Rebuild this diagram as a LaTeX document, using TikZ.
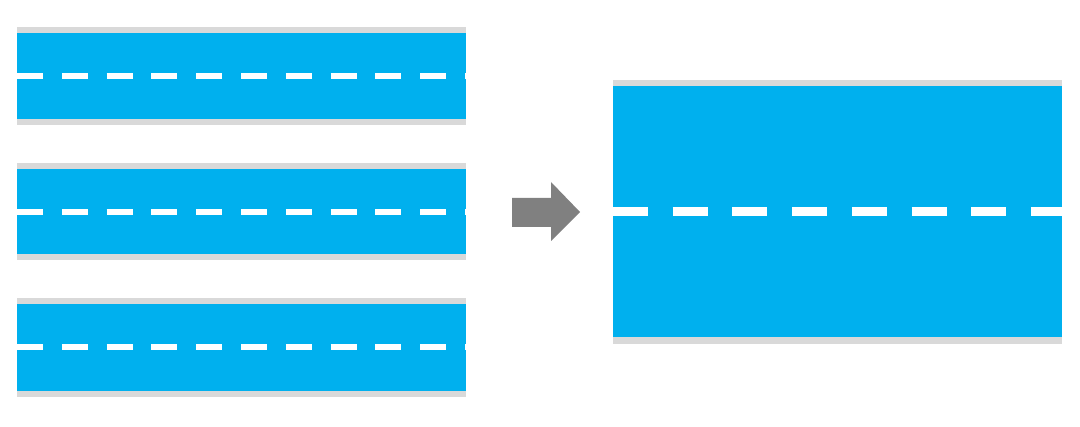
\documentclass[tikz,border=0pt]{standalone}
\definecolor{laneblue}{RGB}{0,176,238}
\definecolor{kerbgray}{RGB}{217,217,217}
\definecolor{arrowgray}{RGB}{128,128,128}
\tikzset{
  lane/.style={fill=laneblue},
  kerb/.style={fill=kerbgray},
  smallmark/.style={draw=white, line width=6, dash pattern=on 26 off 18.8},
  bigmark/.style={draw=white, line width=9, dash pattern=on 35 off 24.7}
}
\begin{document}
\begin{tikzpicture}[x=1pt, y=-1pt]
\useasboundingbox (0,0) rectangle (1080,427);
% road 1
\fill[kerb] (17,27) rectangle (466,125);
\fill[lane] (17,33) rectangle (466,119);
\draw[smallmark] (17,76) -- (466,76);
% road 2
\fill[kerb] (17,163) rectangle (466,260);
\fill[lane] (17,169) rectangle (466,254);
\draw[smallmark] (17,212) -- (466,212);
% road 3
\fill[kerb] (17,298) rectangle (466,397);
\fill[lane] (17,304) rectangle (466,391);
\draw[smallmark] (17,347.5) -- (466,347.5);
% arrow
\fill[arrowgray] (512,198) -- (551,198) -- (551,182) -- (580,212) -- (551,241) -- (551,227) -- (512,227) -- cycle;
% wide road
\fill[kerb] (613,80) rectangle (1062,344);
\fill[lane] (613,86) rectangle (1062,337);
\draw[bigmark] (613,211.5) -- (1062,211.5);
\end{tikzpicture}
\end{document}
